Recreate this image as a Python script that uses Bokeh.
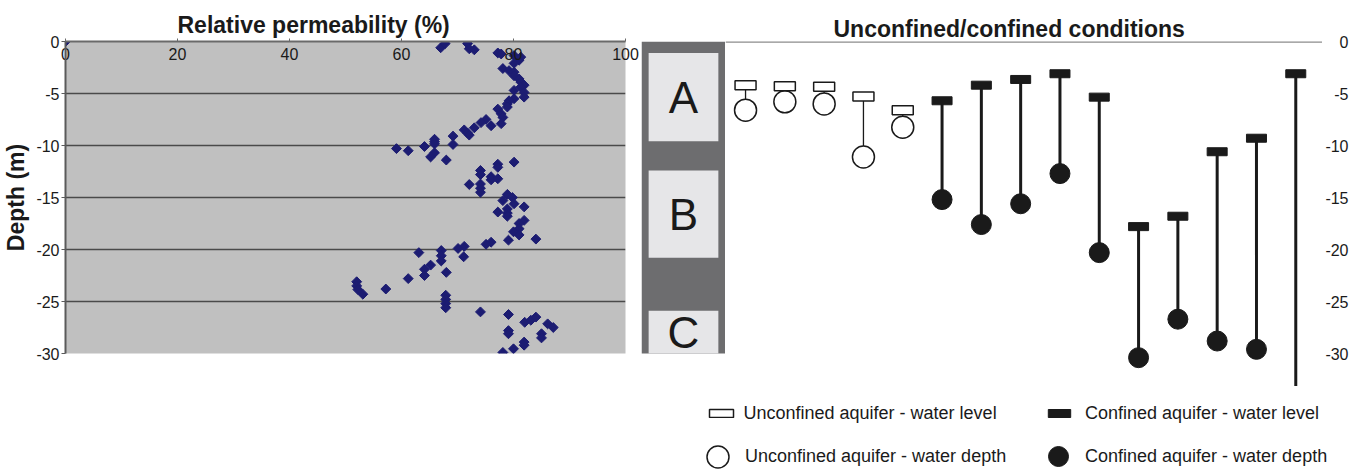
from bokeh.plotting import figure
from bokeh.models import Range1d, FixedTicker, Span, Legend, LegendItem
from bokeh.layouts import row, column
from bokeh.embed import file_html
from bokeh.resources import INLINE
from bokeh.core.properties import value

FONT = "Liberation Sans"

# ---------------- data ----------------
perm = [0, 67.0, 67.8, 71.8, 72.1, 73.0, 77.2, 77.8, 80.1, 81.0, 81.3, 80.1, 78.1, 79.2,
        80.1, 80.1, 81.0, 81.3, 81.9, 81.3, 80.1, 81.9, 81.9, 80.1, 79.2, 78.9, 78.9, 77.2,
        77.8, 78.1, 77.8, 75.1, 74.2, 76.0, 73.0, 71.2, 71.8, 72.1, 69.2, 69.2, 65.9, 65.9,
        65.9, 64.1, 59.1, 61.2, 65.9, 65.2, 68.0, 80.1, 77.2, 77.2, 74.1, 74.1, 76.0, 76.0,
        77.2, 72.1, 74.1, 74.1, 74.1, 78.9, 79.8, 78.1, 80.1, 78.9, 81.9, 77.2, 78.9, 78.9,
        81.9, 81.0, 81.0, 80.0, 81.0, 84.0, 79.1, 76.0, 75.1, 71.2, 70.1, 71.1, 63.1, 67.1,
        67.1, 67.1, 68.0, 65.2, 64.1, 64.1, 61.2, 57.2, 52.0, 52.0, 52.2, 53.1, 67.9, 67.9,
        67.9, 67.9, 74.1, 79.1, 82.0, 83.1, 84.0, 86.1, 87.1, 79.1, 79.1, 85.0, 85.0, 81.9,
        81.9, 80.0, 78.1]
depth = [0, -0.6, -0.2, -0.2, -0.7, -0.8, -1.1, -1.2, -1.35, -1.8, -1.5, -2.1, -2.6, -2.8,
         -2.95, -3.3, -3.6, -3.9, -4.2, -4.4, -4.7, -4.9, -5.35, -5.5, -5.7, -6.0, -6.3, -6.5,
         -6.95, -7.3, -7.9, -7.5, -7.8, -8.1, -8.3, -8.5, -8.8, -9.0, -9.1, -9.9, -9.4, -9.65,
         -9.85, -10.1, -10.3, -10.5, -10.7, -11.1, -11.4, -11.6, -11.8, -12.1, -12.4, -12.8, -13.0, -13.3,
         -13.2, -13.75, -13.7, -14.1, -14.5, -14.7, -15.0, -15.3, -15.6, -16.1, -15.9, -16.4, -16.5, -16.8,
         -17.2, -17.5, -18.0, -18.3, -18.6, -19.0, -19.1, -19.3, -19.5, -19.7, -19.9, -20.7, -20.3, -20.1,
         -20.6, -21.1, -22.2, -21.5, -21.9, -22.5, -22.8, -23.8, -23.1, -23.5, -23.85, -24.3, -24.4, -24.8,
         -25.2, -25.6, -26.0, -26.25, -27.0, -26.8, -26.5, -27.15, -27.5, -27.8, -28.1, -28.1, -28.5, -28.9,
         -29.2, -29.55, -29.9]

x_ticks = [0, 20, 40, 60, 80, 100]
x_tick_labels = ["0", "20", "40", "60", "80", "100"]
y_ticks = [0, -5, -10, -15, -20, -25, -30]
y_tick_labels = ["0", "-5", "-10", "-15", "-20", "-25", "-30"]

zone_names = ["A", "B", "C"]
zone_top = [-1.1, -12.4, -25.9]
zone_bottom = [-9.6, -20.8, -30.0]

unc_station = [1, 2, 3, 4, 5]
unc_level = [-4.2, -4.3, -4.35, -5.3, -6.6]
unc_depth = [-6.6, -5.8, -6.0, -11.1, -8.25]

con_station = [6, 7, 8, 9, 10, 11, 12, 13, 14, 15]
con_level = [-5.7, -4.2, -3.65, -3.1, -5.35, -17.8, -16.8, -10.6, -9.3, -3.1]
con_depth = [-15.2, -17.6, -15.6, -12.7, -20.3, -30.4, -26.7, -28.8, -29.6, -37.0]

legend_labels = ["Unconfined aquifer - water level", "Confined aquifer - water level",
                 "Unconfined aquifer - water depth", "Confined aquifer - water depth"]

INK = "#1a1a1a"
H_TOTAL = 470
TOP = 41
PX_PER_M = 312 / 30.0

# ---------------- left: relative permeability ----------------
left = figure(width=641, height=H_TOTAL, x_range=Range1d(0, 100), y_range=Range1d(-30, 0),
              output_backend="svg", toolbar_location=None, x_axis_location="above",
              min_border_left=63, min_border_right=16, min_border_top=TOP,
              min_border_bottom=H_TOTAL - TOP - 312,
              title="Relative permeability (%)")
left.background_fill_color = "#c0c0c0"
left.border_fill_color = "white"
left.outline_line_color = None
left.title.align = "left"
left.title.offset = 112
left.title.text_font = FONT
left.title.text_font_size = "23px"
left.title.text_font_style = "bold"
left.title.text_color = INK
left.title.standoff = 7

left.xgrid.visible = False
left.ygrid.ticker = FixedTicker(ticks=y_ticks[1:-1])
left.ygrid.grid_line_color = "#4a4a4a"
left.ygrid.grid_line_width = 1.6

xa = left.xaxis[0]
xa.ticker = FixedTicker(ticks=x_ticks)
xa.major_label_overrides = dict(zip(x_ticks, x_tick_labels))
xa.major_label_standoff = -21
xa.major_tick_out = 3
xa.major_tick_in = 0
xa.minor_tick_out = 0
xa.minor_tick_in = 0
xa.axis_line_color = "#6a6a6a"
xa.axis_line_width = 2
xa.major_tick_line_color = "#6a6a6a"
xa.major_label_text_font = FONT
xa.major_label_text_font_size = "16px"
xa.major_label_text_color = INK

ya = left.yaxis[0]
ya.ticker = FixedTicker(ticks=y_ticks)
ya.major_label_overrides = dict(zip(y_ticks, y_tick_labels))
ya.axis_label = "Depth (m)"
ya.axis_label_text_font = FONT
ya.axis_label_text_font_size = "23px"
ya.axis_label_text_font_style = "bold"
ya.axis_label_text_color = INK
ya.axis_label_standoff = 4
ya.major_label_standoff = 2
ya.major_tick_out = 4
ya.major_tick_in = 0
ya.minor_tick_out = 0
ya.minor_tick_in = 0
ya.axis_line_color = "#5a5a5a"
ya.axis_line_width = 2
ya.major_tick_line_color = "#5a5a5a"
ya.major_label_text_font = FONT
ya.major_label_text_font_size = "16px"
ya.major_label_text_color = INK

left.scatter(perm, depth, marker="square", angle=0.785398, size=7,
             fill_color="#1c1c72", line_color="#1c1c72")

# ---------------- shared depth range for the right-hand block ----------------
RIGHT_H = 386
right_y = Range1d(-(RIGHT_H - TOP) / PX_PER_M, 0)

# ---------------- strip: zones ----------------
strip = figure(width=84, height=RIGHT_H, x_range=Range1d(0, 1), y_range=right_y,
               output_backend="svg", toolbar_location=None,
               min_border_left=0, min_border_right=0, min_border_top=TOP, min_border_bottom=0)
strip.background_fill_color = None
strip.border_fill_color = "white"
strip.outline_line_color = None
strip.axis.visible = False
strip.grid.visible = False
strip.quad(left=0, right=1, top=y_ticks[0], bottom=y_ticks[-1],
           fill_color="#6d6d6f", line_color=None)
zone_mid = [(t + b) / 2 for t, b in zip(zone_top, zone_bottom)]
strip.quad(left=0.085, right=0.915, top=zone_top, bottom=zone_bottom,
           fill_color="#e6e6e8", line_color=None)
strip.text(x=[0.5] * len(zone_names), y=zone_mid, text=zone_names,
           text_align="center", text_baseline="middle", text_font=value(FONT),
           text_font_size="44px", text_color=INK)

# ---------------- right: unconfined / confined ----------------
right = figure(width=597, height=RIGHT_H, x_range=Range1d(0.49, 15.68), y_range=right_y,
               output_backend="svg", toolbar_location=None,
               min_border_left=0, min_border_right=0, min_border_top=TOP, min_border_bottom=0,
               title="Unconfined/confined conditions")
right.title.align = "left"
right.title.offset = 108
right.title.text_font = FONT
right.title.text_font_size = "23px"
right.title.text_font_style = "bold"
right.title.text_color = INK
right.title.standoff = 0
right.outline_line_color = None
right.axis.visible = False
right.grid.visible = False
right.add_layout(Span(location=0, dimension="width", line_color="#8c8c8c", line_width=2.5))

right.segment(x0=unc_station, y0=unc_level, x1=unc_station, y1=unc_depth,
              line_color=INK, line_width=1.3)
right.segment(x0=con_station, y0=con_level, x1=con_station, y1=con_depth,
              line_color=INK, line_width=3)
right.scatter(unc_station, unc_depth, marker="circle", size=22, fill_color="white",
              line_color=INK, line_width=1.5)
right.scatter(con_station, con_depth, marker="circle", size=20, fill_color=INK, line_color=INK)
right.rect(unc_station, unc_level, width=21, height=9, width_units="screen", height_units="screen",
           fill_color="white", line_color=INK, line_width=1.5)
right.rect(con_station, con_level, width=20, height=8, width_units="screen", height_units="screen",
           fill_color=INK, line_color=INK)

# ---------------- right-hand depth axis ----------------
axf = figure(width=37, height=RIGHT_H, x_range=Range1d(0, 1), y_range=right_y,
             output_backend="svg", toolbar_location=None,
             min_border_left=28, min_border_right=0, min_border_top=TOP, min_border_bottom=0)
axf.outline_line_color = None
axf.grid.visible = False
axf.xaxis.visible = False
ya2 = axf.yaxis[0]
ya2.ticker = FixedTicker(ticks=y_ticks)
ya2.major_label_overrides = dict(zip(y_ticks, y_tick_labels))
ya2.axis_line_color = None
ya2.major_tick_out = 0
ya2.major_tick_in = 0
ya2.minor_tick_out = 0
ya2.minor_tick_in = 0
ya2.major_label_standoff = 2
ya2.major_label_text_font = FONT
ya2.major_label_text_font_size = "16px"
ya2.major_label_text_color = INK

# ---------------- legend ----------------
LEG_H = H_TOTAL - RIGHT_H
legf = figure(width=710, height=LEG_H, x_range=Range1d(0, 1), y_range=Range1d(0, 1),
              output_backend="svg", toolbar_location=None, min_border=0)
legf.outline_line_color = None
legf.axis.visible = False
legf.grid.visible = False
# legend proxies: first data value of each series (falls outside this empty panel's ranges)
g1 = legf.rect(x=unc_station[:1], y=unc_level[:1], width=21, height=9, width_units="screen",
               height_units="screen", fill_color="white", line_color=INK, line_width=1.5)
g2 = legf.rect(x=con_station[:1], y=con_level[:1], width=20, height=8, width_units="screen",
               height_units="screen", fill_color=INK, line_color=INK)
g3 = legf.scatter(x=unc_station[:1], y=unc_depth[:1], marker="circle", size=22,
                  fill_color="white", line_color=INK, line_width=1.5)
g4 = legf.scatter(x=con_station[:1], y=con_depth[:1], marker="circle", size=20,
                  fill_color=INK, line_color=INK)

specs = [(g1, legend_labels[0], (64.5, 46.5), 30, 10, 8),
         (g2, legend_labels[1], (404, 46.5), 28, 10, 12),
         (g3, legend_labels[2], (49, -13.5), 55, 55, -2),
         (g4, legend_labels[3], (392, -11), 50, 50, 2)]
for g, lab, loc, gw, gh, so in specs:
    lg = Legend(items=[LegendItem(label=lab, renderers=[g])], location=loc,
                glyph_width=gw, glyph_height=gh, label_standoff=so, padding=0, margin=0,
                border_line_color=None, background_fill_alpha=0,
                label_text_font=FONT, label_text_font_size="18px", label_text_color=INK)
    legf.add_layout(lg, "center")

layout = row(left, column(row(strip, right, axf), legf))
open("out.html", "w").write(file_html(layout, INLINE))
